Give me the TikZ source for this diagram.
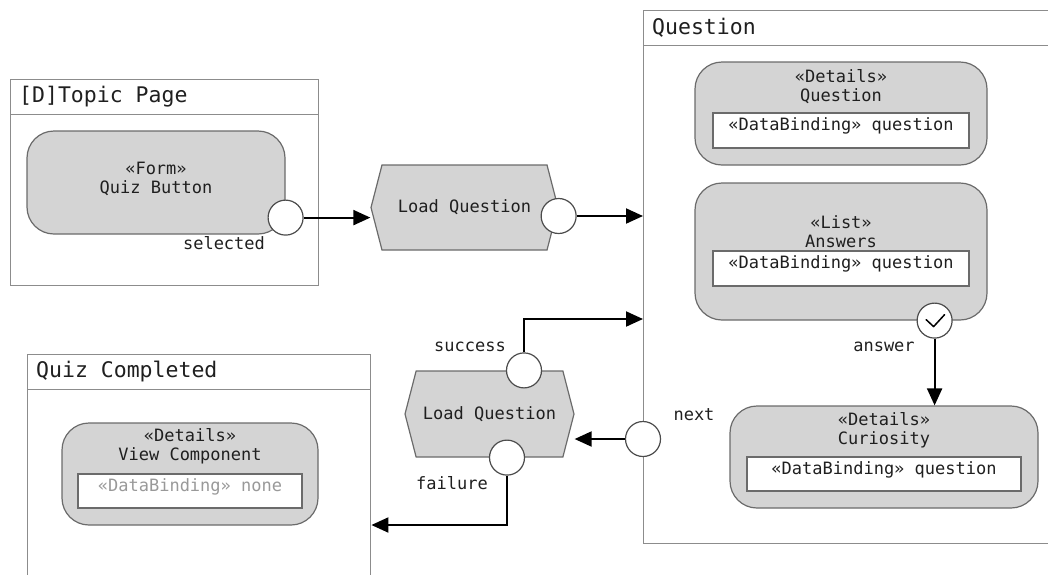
\documentclass[tikz,border=0pt]{standalone}
\usepackage{fontspec}
\setmonofont{DejaVu Sans Mono}
\usetikzlibrary{shapes.symbols, arrows.meta, calc, positioning}
\colorlet{box-color}{black!17}
\colorlet{box-line}{black!58}
\colorlet{frame-line}{black!45}
\colorlet{port-line}{black!70}
\colorlet{none-text}{black!40}
\tikzset{
    frame/.style = {draw=frame-line, line width=1.4pt, rectangle, inner sep=0pt},
    frametitle/.style = {anchor=north west, minimum height=35pt, inner xsep=9pt, inner ysep=0pt,
        font=\fontsize{21.5}{24}\selectfont\ttfamily},
    comp/.style = {draw=box-line, fill=box-color, line width=1.2pt, rounded corners=27pt, inner sep=0pt},
    comptext/.style = {align=center, inner sep=0pt},
    binding/.style = {draw=box-line, fill=white, line width=1.2pt, minimum height=35pt,
        text height=13pt, text depth=13pt, inner ysep=4pt, inner xsep=0pt},
    action/.style = {signal, signal to=west and east, signal pointer angle=151,
        draw=box-line, fill=box-color, line width=1.2pt, inner sep=0pt},
    port/.style = {circle, draw=port-line, fill=white, line width=1.2pt, minimum size=35pt, inner sep=0pt},
    flow/.style = {-{Triangle[length=17pt,width=15pt]}, line width=2pt},
    lbl/.style = {inner sep=0pt},
}

\begin{document}
\begin{tikzpicture}[x=1pt, y=-1pt, font=\fontsize{17}{19}\selectfont\ttfamily, text=black!88]
\useasboundingbox (0,0) rectangle (1048,574);
\clip (0,0) rectangle (1048,574);

\node[frame, anchor=north west, minimum width=308pt, minimum height=206pt] (tframe) at (10,79) {};
\node[frametitle] (ttitle) at (tframe.north west) {[D]Topic Page};
\draw[frame] (ttitle.south -| tframe.west) -- (ttitle.south -| tframe.east);

\node[frame, anchor=north west, minimum width=430pt, minimum height=533pt] (qframe) at (643,10) {};
\node[frametitle] (qtitle) at (qframe.north west) {Question};
\draw[frame] (qtitle.south -| qframe.west) -- (qtitle.south -| qframe.east);

\node[frame, anchor=north west, minimum width=343pt, minimum height=240pt] (cframe) at (27,354) {};
\node[frametitle] (ctitle) at (cframe.north west) {Quiz Completed};
\draw[frame] (ctitle.south -| cframe.west) -- (ctitle.south -| cframe.east);

\node[comp, minimum width=258pt, minimum height=103pt] (qbtn) at (156,182.5) {};
\node[comptext] (qbtn-t) at ($(qbtn.center)+(0,-4)$) {«Form»\\Quiz Button};
\node[port] (qbtn-sel) at ($(qbtn.south east)+(0,-17)$) {};
\node[lbl] (sel-l) at (224,243) {selected};

\node[action, minimum width=187pt, minimum height=85pt] (lq1) at (464.5,207.5) {Load Question};
\node[port] (lq1-out) at ($(lq1.east)+(0,8.5)$) {};

\node[comp, minimum width=292pt, minimum height=103pt] (qdet) at (841,113.5) {};
\node[comptext] (qdet-t) at ($(qdet.center)+(0,-27)$) {«Details»\\Question};
\node[binding, minimum width=256pt] (qdet-b) at ($(qdet.center)+(0,17)$) {«DataBinding» question};

\node[comp, minimum width=292pt, minimum height=137pt] (qans) at (841,251.5) {};
\node[comptext] (qans-t) at ($(qans.center)+(0,-20)$) {«List»\\Answers};
\node[binding, minimum width=256pt] (qans-b) at ($(qans.center)+(0,17)$) {«DataBinding» question};
\node[port] (qans-ok) at ($(qans.south east)+(-53,0)$) {};
\draw[line width=1.5pt, line cap=round, line join=round] ($(qans-ok)+(-8.5,-1)$) -- ++(7.5,7) -- ++(11,-12);
\node[lbl] (ans-l) at (884,347) {answer};

\node[comp, minimum width=308pt, minimum height=102pt] (qcur) at (884,457) {};
\node[comptext] (qcur-t) at ($(qcur.center)+(0,-26.5)$) {«Details»\\Curiosity};
\node[binding, minimum width=274pt, minimum height=34pt] (qcur-b) at ($(qcur.center)+(0,17)$) {«DataBinding» question};

\node[port] (qnext) at ($(qframe.north west)+(0,429)$) {};
\node[lbl] (next-l) at (694,415) {next};
\coordinate (qin) at ($(qframe.north west)+(0,309)$);

\node[action, minimum width=169pt, minimum height=86pt] (lq2) at (489.5,414) {Load Question};
\node[port] (lq2-ok) at ($(lq2.north)+(34.5,0)$) {};
\node[port] (lq2-fail) at ($(lq2.south)+(17.5,0)$) {};
\node[lbl] (ok-l) at (470,347) {success};
\node[lbl] (fail-l) at (452,483) {failure};

\node[comp, minimum width=256pt, minimum height=102pt] (cview) at (190,474) {};
\node[comptext] (cview-t) at ($(cview.center)+(0,-27.5)$) {«Details»\\View Component};
\node[binding, minimum width=224pt, minimum height=34pt, text=none-text] (cview-b) at ($(cview.center)+(0,17)$) {«DataBinding» none};
\coordinate (cin) at ($(cframe.north east)+(0,171)$);

\draw[flow] (qbtn-sel) -- (qbtn-sel -| lq1.west);
\draw[flow] (lq1-out) -- (lq1-out -| qframe.west);
\draw[flow] (qans-ok) -- (qans-ok |- qcur.north);
\draw[flow] (qnext) -- (qnext -| lq2.east);
\draw[flow] (lq2-ok) |- (qin);
\draw[flow] (lq2-fail) |- (cin);
\end{tikzpicture}
\end{document}
